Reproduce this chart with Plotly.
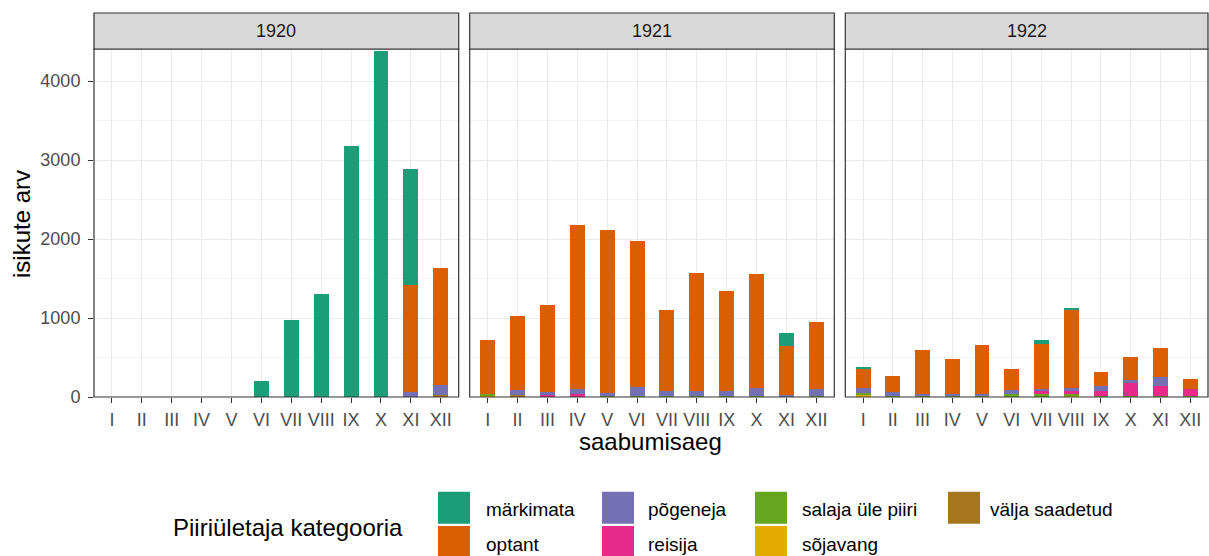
import plotly.graph_objects as go

# ---------------- data ----------------
years = ["1920", "1921", "1922"]
months = ["I", "II", "III", "IV", "V", "VI", "VII", "VIII", "IX", "X", "XI", "XII"]

categories = ["märkimata", "optant", "põgeneja", "reisija",
              "salaja üle piiri", "sõjavang", "välja saadetud"]
colors = ["#1B9E77", "#D95F02", "#7570B3", "#E7298A",
          "#66A61E", "#E6AB02", "#A6761D"]

# values per category: 1920 (12 months), 1921 (12), 1922 (12)
markimata_1920 = [0, 0, 0, 0, 0, 200, 975, 1300, 3180, 4380, 1470, 0]
markimata_1921 = [0, 0, 0, 0, 0, 0, 0, 0, 0, 0, 175, 0]
markimata_1922 = [20, 0, 0, 0, 0, 0, 42, 20, 0, 0, 0, 0]

optant_1920 = [0, 0, 0, 0, 0, 0, 0, 0, 0, 0, 1360, 1480]
optant_1921 = [680, 940, 1100, 2085, 2065, 1845, 1020, 1490, 1260, 1435, 610, 855]
optant_1922 = [250, 210, 560, 446, 623, 265, 578, 985, 178, 288, 367, 136]

pogeneja_1920 = [0, 0, 0, 0, 0, 0, 0, 0, 0, 0, 60, 130]
pogeneja_1921 = [0, 70, 35, 60, 40, 115, 65, 65, 65, 105, 20, 80]
pogeneja_1922 = [60, 45, 25, 25, 25, 45, 28, 40, 55, 40, 111, 0]

reisija_1920 = [0, 0, 0, 0, 0, 0, 0, 0, 0, 0, 0, 0]
reisija_1921 = [0, 0, 25, 25, 0, 0, 0, 0, 0, 0, 0, 0]
reisija_1922 = [0, 0, 0, 0, 0, 0, 30, 40, 65, 160, 127, 82]

salaja_1920 = [0, 0, 0, 0, 0, 0, 0, 0, 0, 0, 0, 0]
salaja_1921 = [20, 0, 0, 10, 15, 15, 15, 15, 15, 15, 10, 15]
salaja_1922 = [20, 15, 15, 15, 15, 40, 40, 15, 15, 15, 15, 15]

sojavang_1920 = [0, 0, 0, 0, 0, 0, 0, 0, 0, 0, 0, 0]
sojavang_1921 = [20, 0, 0, 0, 0, 0, 0, 0, 0, 0, 0, 0]
sojavang_1922 = [35, 0, 0, 0, 0, 0, 0, 25, 0, 0, 0, 0]

valja_1920 = [0, 0, 0, 0, 0, 0, 0, 0, 0, 0, 0, 20]
valja_1921 = [0, 20, 0, 0, 0, 0, 0, 0, 0, 0, 0, 0]
valja_1922 = [0, 0, 0, 0, 0, 0, 0, 0, 0, 0, 0, 0]

y_ticks = [0, 1000, 2000, 3000, 4000]

series = {
    "märkimata": [markimata_1920, markimata_1921, markimata_1922],
    "optant": [optant_1920, optant_1921, optant_1922],
    "põgeneja": [pogeneja_1920, pogeneja_1921, pogeneja_1922],
    "reisija": [reisija_1920, reisija_1921, reisija_1922],
    "salaja üle piiri": [salaja_1920, salaja_1921, salaja_1922],
    "sõjavang": [sojavang_1920, sojavang_1921, sojavang_1922],
    "välja saadetud": [valja_1920, valja_1921, valja_1922],
}

# ---------------- layout helpers ----------------
W, H = 1209, 556
FONT = "Liberation Sans"


def px_x(v):
    return v / W


def px_y(v):
    return 1 - v / H


panel_top, panel_bot = 49, 397
strip_top = 13
x_doms = [(94, 458.7), (469.7, 834.3), (845.3, 1208)]

fig = go.Figure()

# stacking: first trace = bottom, ggplot puts first level on top
for p in range(3):
    xa = "x" if p == 0 else f"x{p + 1}"
    ya = "y" if p == 0 else f"y{p + 1}"
    for cat, col in reversed(list(zip(categories, colors))):
        fig.add_trace(go.Bar(
            x=months, y=series[cat][p], name=cat,
            marker=dict(color=col, line=dict(width=0)),
            width=0.5, xaxis=xa, yaxis=ya, showlegend=False,
        ))

axis_common = dict(
    showline=False, zeroline=False, showgrid=True, automargin=False,
    gridcolor="#EBEBEB", gridwidth=1.1,
    ticks="outside", ticklen=5, tickwidth=1.1, tickcolor="#333333",
    tickfont=dict(family=FONT, size=18, color="#4D4D4D"),
)

layout = dict(
    width=W, height=H,
    margin=dict(l=0, r=0, t=0, b=0, pad=0, autoexpand=False),
    paper_bgcolor="white", plot_bgcolor="white",
    barmode="stack", showlegend=False,
    font=dict(family=FONT),
)

ymax = 4405
for p in range(3):
    sx = "" if p == 0 else str(p + 1)
    layout[f"xaxis{sx}"] = dict(
        axis_common, domain=[px_x(x_doms[p][0]), px_x(x_doms[p][1])],
        anchor=f"y{sx}", type="category", categoryorder="array",
        categoryarray=months, range=[-0.6, 11.6], ticklabelstandoff=1,
    )
    ydict = dict(
        axis_common, domain=[px_y(panel_bot), px_y(panel_top)],
        anchor=f"x{sx}", range=[0, ymax], tickvals=y_ticks,
        minor=dict(tickvals=[500, 1500, 2500, 3500], showgrid=True,
                   gridcolor="#F3F3F3", gridwidth=0.7, ticks=""),
    )
    if p == 0:
        ydict["ticklabelstandoff"] = 4
    else:
        ydict["matches"] = "y"
        ydict["showticklabels"] = False
        ydict["ticks"] = ""
    layout[f"yaxis{sx}"] = ydict

fig.update_layout(**layout)

shapes = []
annotations = []
for p in range(3):
    sx = "" if p == 0 else str(p + 1)
    # panel border
    shapes.append(dict(type="rect", xref=f"x{sx} domain", yref=f"y{sx} domain",
                       x0=0, x1=1, y0=0, y1=1, layer="above",
                       line=dict(color="#333333", width=1.2)))
    # strip
    shapes.append(dict(type="rect", xref=f"x{sx} domain", yref="paper",
                       x0=0, x1=1, y0=px_y(panel_top), y1=px_y(strip_top),
                       fillcolor="#D9D9D9", layer="above",
                       line=dict(color="#333333", width=1.2)))
    annotations.append(dict(xref=f"x{sx} domain", yref="paper", x=0.5,
                            y=px_y((panel_top + strip_top) / 2),
                            text=years[p], showarrow=False,
                            xanchor="center", yanchor="middle",
                            font=dict(family=FONT, size=18, color="#1A1A1A")))

# axis titles
annotations.append(dict(xref="paper", yref="paper", x=px_x(650), y=px_y(441),
                        text="saabumisaeg", showarrow=False,
                        xanchor="center", yanchor="middle",
                        font=dict(family=FONT, size=24, color="black")))
annotations.append(dict(xref="paper", yref="paper", x=px_x(22), y=px_y(224),
                        text="isikute arv", showarrow=False, textangle=-90,
                        xanchor="center", yanchor="middle",
                        font=dict(family=FONT, size=24, color="black")))

# legend (ggplot style, column-major 2 rows)
annotations.append(dict(xref="paper", yref="paper", x=px_x(171), y=px_y(527),
                        text="Piiriületaja kategooria", showarrow=False,
                        xanchor="left", yanchor="middle",
                        font=dict(family=FONT, size=24, color="black")))
key_x = [438, 602, 755, 948]
label_x = [484, 646, 800, 988]
key_y = [491.7, 526]
key_size = 32
for i, (cat, col) in enumerate(zip(categories, colors)):
    c, r = divmod(i, 2)
    x0 = key_x[c]
    y0 = key_y[r]
    shapes.append(dict(type="rect", xref="paper", yref="paper",
                       x0=px_x(x0), x1=px_x(x0 + key_size),
                       y0=px_y(y0 + key_size), y1=px_y(y0),
                       fillcolor=col, line=dict(width=0)))
    annotations.append(dict(xref="paper", yref="paper", x=px_x(label_x[c]),
                            y=px_y(y0 + key_size / 2 + 2), text=cat,
                            showarrow=False, xanchor="left", yanchor="middle",
                            font=dict(family=FONT, size=19, color="black")))

fig.update_layout(shapes=shapes, annotations=annotations)
fig.write_html(
    "out.html",
    config={"displayModeBar": False},
    post_script="document.body.style.margin='0';document.body.style.overflow='hidden';",
)
